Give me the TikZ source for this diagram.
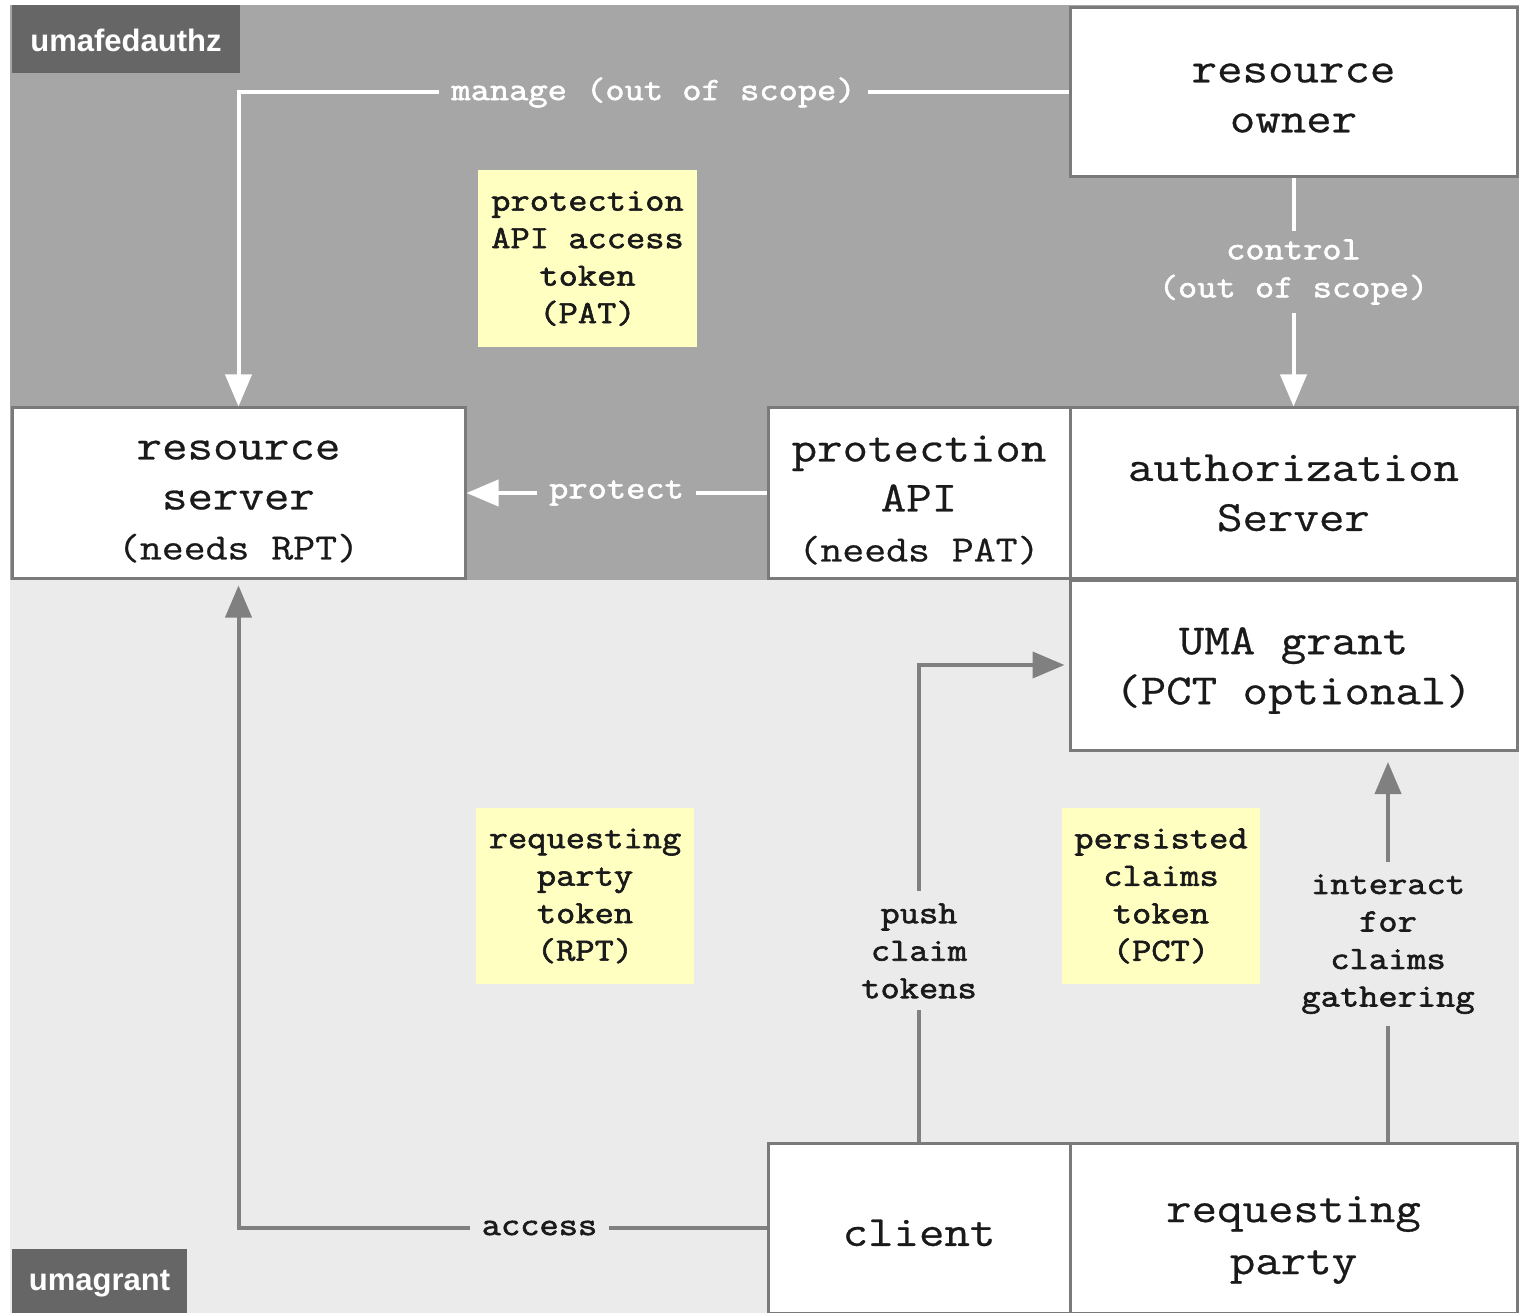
\documentclass[tikz,border=0pt]{standalone}
\usepackage{fontspec}
\newfontfamily\cour[FakeStretch=1.15,FakeBold=0.6]{Latin Modern Mono}
\newfontfamily\courb[FakeStretch=1.15,FakeBold=1.9]{Latin Modern Mono}
\newfontfamily\labsans{Liberation Sans}
\usetikzlibrary{arrows.meta,calc}
\definecolor{darkbg}{HTML}{A6A6A6}
\definecolor{lightbg}{HTML}{EBEBEB}
\definecolor{tagbg}{HTML}{666666}
\definecolor{boxline}{HTML}{7A7A7A}
\definecolor{notefill}{HTML}{FFFFC2}
\definecolor{grayline}{HTML}{808080}
\definecolor{inktext}{HTML}{1A1A1A}
\tikzset{
  box/.style={draw=boxline, line width=3pt, fill=white, inner sep=0pt, align=center,
    text=inktext, font=\cour\fontsize{43}{50}\selectfont},
  notebox/.style={fill=notefill, inner sep=0pt, align=center, text=inktext,
    font=\courb\fontsize{32.5}{37.5}\selectfont},
  lbldark/.style={fill=darkbg, text=white, align=center,
    font=\courb\fontsize{32.5}{38}\selectfont, inner xsep=12pt, inner ysep=8pt},
  lbllight/.style={fill=lightbg, text=inktext, align=center,
    font=\courb\fontsize{32.5}{37.5}\selectfont, inner xsep=12pt, inner ysep=12pt},
  tagbox/.style={fill=tagbg, text=white, inner sep=0pt,
    font=\labsans\bfseries\fontsize{31}{31}\selectfont},
  wline/.style={draw=white, line width=4pt, -{Triangle[length=32pt,width=26pt]}},
  gline/.style={draw=grayline, line width=4pt, -{Triangle[length=32pt,width=26pt]}},
}
\begin{document}
\begin{tikzpicture}[x=1pt,y=-1pt]
\useasboundingbox (0,0) rectangle (1519,1313);
% backgrounds
\fill[darkbg] (10,5) rectangle (1519,580);
\fill[lightbg] (10,580) rectangle (1519,1313);
\node[tagbox, minimum width=228pt, minimum height=68pt] (tagtop) at (126,39) {\rule{0pt}{26pt}umafedauthz};
\node[tagbox, minimum width=175pt, minimum height=64pt] (tagbot) at (99.5,1281) {\rule{0pt}{26pt}umagrant};

% notes
\node[notebox, minimum width=219pt, minimum height=177pt] (pat) at (587.5,258.5)
  {protection\\API access\\token\\(PAT)};
\node[notebox, minimum width=218pt, minimum height=176pt] (rpt) at (585,896)
  {requesting\\party\\token\\(RPT)};
\node[notebox, minimum width=198pt, minimum height=176pt] (pct) at (1161,896)
  {persisted\\claims\\token\\(PCT)};

% boxes
\node[box, minimum width=447pt, minimum height=169pt] (ro) at (1293.5,92.5) {\rule{0pt}{30pt}resource\\owner};
\node[box, minimum width=453pt, minimum height=170pt] (rs) at (238.5,493)
  {\rule{0pt}{36pt}resource\\server\\{\fontsize{37}{50}\selectfont(needs RPT)}};
\node[box, minimum width=302pt, minimum height=170pt] (papi) at (919,493)
  {\rule{0pt}{40pt}protection\\API\\{\fontsize{37}{50}\selectfont(needs PAT)}};
\node[box, minimum width=447pt, minimum height=170pt] (as) at (1293.5,493) {authorization\\Server};
\node[box, minimum width=447pt, minimum height=170pt] (uma) at (1293.5,665) {\rule{0pt}{38pt}UMA grant\\(PCT optional)};
\node[box, minimum width=302pt, minimum height=170pt] (client) at (919,1228) {\rule{0pt}{36pt}client};
\node[box, minimum width=447pt, minimum height=170pt] (rp) at (1293.5,1228) {\rule{0pt}{50pt}requesting\\[2pt]party};

% connectors (dark region)
\draw[wline] (ro.west) -- node[lbldark] {manage (out of scope)} (rs.north |- ro.west) -- (rs.north);
\draw[wline] (ro.south) -- node[lbldark, pos=0.41] {control\\(out of scope)} (as.north);
\draw[wline] (papi.west) -- node[lbldark, pos=0.5] {protect} (rs.east);

% connectors (light region)
\draw[gline, shorten >=6pt] (client.west) -- node[lbllight, pos=0.43, inner ysep=6pt] {access} (rs.south |- client.west) -- (rs.south);
\draw[gline, shorten >=4pt] (client.north) -- node[lbllight, pos=0.40] {push\\claim\\tokens} (client.north |- uma.west) -- (uma.west);
\coordinate (iaend) at (1388,762);
\draw[gline] (iaend |- rp.north) -- node[lbllight, pos=0.52] {interact\\for\\claims\\gathering} (iaend);
\end{tikzpicture}
\end{document}
